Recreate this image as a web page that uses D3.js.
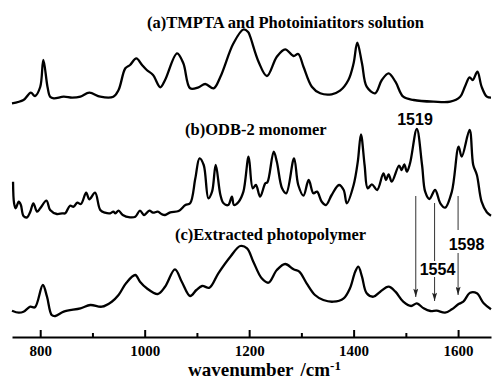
<!DOCTYPE html>
<html>
<head>
<meta charset="utf-8">
<script src="https://cdn.jsdelivr.net/npm/d3@7"></script>
<style>
    body { margin: 0; background: #fff; }
    svg { display: block; }
</style>
</head>
<body>
<div id="chart"></div>
<script>
// wavenumber (cm-1) and relative absorbance
const aWn = [746,768,782,790,800,806,814,819,826,845,861,877,894,915,940,950,963,972,984,995,1004,1016,1030,1039,1062,1074,1087,1103,1116,1132,1145,1170,1189,1198,1202,1218,1234,1253,1269,1285,1294,1304,1320,1336,1358,1374,1390,1400,1407,1416,1425,1441,1454,1467,1480,1495,1515,1553,1585,1604,1613,1622,1628,1637,1645,1655,1663];
const aAbs = [1.7,5,12.3,9,18,45,18,8.3,6.7,8.3,7.3,8.3,12.3,8.3,8.3,15,36.7,40,46.7,40,35,30,17.7,25,51.7,41.7,16.7,17.7,21,16.7,28.3,61.7,75.5,73,68.3,43.3,29,48.3,55.7,49,51,38.3,18.3,11.7,10.7,14.3,25,41.7,62.3,41.7,18.3,11.7,25,31.7,23.3,8.3,5,3.3,3.3,8.3,18.3,27.7,25,33.3,18.3,8.3,7.3];

const bWn = [748,750,753,759,763,768,775,781,787,794,800,812,819,832,842,848,857,864,871,878,888,894,905,915,924,934,940,944,950,958,972,982,991,999,1009,1016,1025,1033,1039,1049,1065,1078,1087,1097,1105,1113,1122,1129,1136,1145,1151,1160,1167,1171,1180,1189,1199,1207,1213,1221,1231,1235,1247,1253,1263,1271,1286,1294,1304,1314,1323,1330,1339,1347,1358,1372,1381,1387,1400,1408,1414,1421,1427,1435,1445,1457,1462,1467,1473,1487,1492,1497,1502,1508,1521,1531,1537,1545,1556,1566,1575,1588,1601,1607,1622,1629,1636,1645,1655,1663];
const bAbs = [38.3,16.7,11.7,18.3,15,4,2.7,8.3,16.7,8.3,11.7,19.3,10,6,6.7,6.7,14.3,13.3,17.3,16,27.3,20.7,27.3,10,7.3,6.7,8.3,6.7,9.3,5,2.7,3.3,9.3,5,9.3,7.3,8.3,5.7,5,7.7,9,15,16.7,41.7,61.7,55,21.7,28.3,55,25,16.7,15,23.3,15,18.3,28.3,63.3,31.7,35,23.3,36.7,37.7,68.3,58.3,31.7,26.7,61.7,35,24.3,40,26.7,28.3,18.3,15,25,35,30,16.7,35,58.3,85.7,55,31.7,35.7,30,46.7,40,45.7,38.3,54.3,50,55.7,48.3,56.7,91,55,28.3,21,30,16.7,12.3,28.3,73.3,63.3,90,55,45,18.3,7.7,4.3];

const cWn = [746,759,768,781,790,805,813,822,829,845,877,896,918,937,950,965,982,991,1004,1025,1039,1058,1071,1087,1099,1110,1124,1141,1164,1183,1196,1208,1224,1237,1253,1269,1285,1296,1310,1326,1342,1361,1381,1393,1403,1409,1416,1425,1438,1451,1467,1480,1495,1510,1521,1534,1547,1559,1575,1588,1601,1610,1623,1636,1649,1663];
const cAbs = [9.3,7.3,8.3,13.3,12.7,35,23.3,5,4,8.3,11.7,15,13.3,18.3,25,37.3,45,38.3,31.7,26,33.3,50.7,38.3,24,30,34,32.3,46.7,63.3,74,71.7,58.3,41.7,37.3,50,56,50.7,48.3,36.7,25,20,18.3,21.7,31.7,48.3,53.3,43.3,26.7,23.3,28.3,33.3,28.3,18.3,14,16.7,11.7,9,9.3,7.3,10.7,16,18.3,27.3,26.7,16.7,10.7];

const spectrumNames = ["(a)TMPTA and Photoiniatitors solution", "(b)ODB-2 monomer", "(c)Extracted photopolymer"];
const spectrumOffsets = [232, 117, 17];

const majorTicks = [800, 1000, 1200, 1400, 1600];
const minorTicks = [900, 1100, 1300, 1500];

const peakWn = [1519, 1555, 1600];
const peakLabels = ["1519", "1554", "1598"];

const width = 492, height = 380;
const axisY = 337;
const serif = "'Liberation Serif', 'Times New Roman', Times, serif";

const svg = d3.select("#chart")
    .append("svg")
    .attr("width", width)
    .attr("height", height);

const x = d3.scaleLinear()
    .domain([746, 1663])
    .range([12, 491]);

// vertical units: stacked, offset per spectrum
const y = d3.scaleLinear()
    .domain([0, 320])
    .range([axisY, axisY - 320]);

const spectra = [
    {name: spectrumNames[0], wn: aWn, abs: aAbs, offset: spectrumOffsets[0]},
    {name: spectrumNames[1], wn: bWn, abs: bAbs, offset: spectrumOffsets[1]},
    {name: spectrumNames[2], wn: cWn, abs: cAbs, offset: spectrumOffsets[2]}
];

const line = d3.line()
    .x(d => x(d[0]))
    .y(d => y(d[1]))
    .curve(d3.curveCatmullRom.alpha(0.5));

svg.selectAll(".spectrum")
    .data(spectra)
    .enter()
    .append("path")
    .attr("class", "spectrum")
    .attr("fill", "none")
    .attr("stroke", "#000")
    .attr("stroke-width", 2.3)
    .attr("stroke-linejoin", "round")
    .attr("d", s => line(s.wn.map((w, i) => [w, s.abs[i] + s.offset])));

// titles
const titlePos = [[147, 28], [185, 135], [175, 240]];
svg.selectAll(".title")
    .data(spectra)
    .enter()
    .append("text")
    .attr("class", "title")
    .attr("x", (d, i) => titlePos[i][0])
    .attr("y", (d, i) => titlePos[i][1])
    .attr("font-family", serif)
    .attr("font-weight", "bold")
    .attr("font-size", "16.5px")
    .text(d => d.name);

// axis
const xAxis = d3.axisBottom(x)
    .tickValues(majorTicks)
    .tickFormat(d3.format("d"))
    .tickSize(-7)
    .tickSizeOuter(0)
    .tickPadding(8);

const gx = svg.append("g")
    .attr("class", "xaxis")
    .attr("transform", `translate(0,${axisY})`)
    .call(xAxis);
gx.select(".domain").attr("stroke-width", 2);
gx.selectAll(".tick line").attr("stroke-width", 2);
gx.selectAll("text")
    .attr("font-family", serif)
    .attr("font-weight", "bold")
    .attr("font-size", "15px")
    .attr("fill", "#000");

const minorAxis = d3.axisBottom(x)
    .tickValues(minorTicks)
    .tickSize(-4)
    .tickSizeOuter(0)
    .tickFormat("");
const gm = svg.append("g")
    .attr("transform", `translate(0,${axisY})`)
    .call(minorAxis);
gm.select(".domain").remove();
gm.selectAll(".tick line").attr("stroke-width", 2);

const axisLabel = svg.append("text")
    .attr("x", 188)
    .attr("y", 376)
    .attr("font-family", serif)
    .attr("font-weight", "bold")
    .attr("font-size", "19px");
axisLabel.append("tspan").text("wavenumber");
axisLabel.append("tspan").attr("dx", 7).text("/cm");
axisLabel.append("tspan").attr("dy", -6).attr("font-size", "13px").text("-1");

// peak arrows
svg.append("defs").append("marker")
    .attr("id", "head")
    .attr("viewBox", "0 0 10 6")
    .attr("refX", 10)
    .attr("refY", 3)
    .attr("markerUnits", "userSpaceOnUse")
    .attr("markerWidth", 9)
    .attr("markerHeight", 5)
    .attr("orient", "auto")
    .append("path")
    .attr("d", "M0,0L10,3L0,6L2,3Z")
    .attr("fill", "#222");

// [top, gapTop, gapBottom, tip] in the same vertical units
const arrowSpans = [[141, null, null, 40], [134, 76, 60, 36], [141, 107, 84, 42]];
peakWn.forEach((w, i) => {
    const s = arrowSpans[i];
    const segs = s[1] === null ? [[s[0], s[3]]] : [[s[0], s[1]], [s[2], s[3]]];
    segs.forEach((g, j) => {
        svg.append("line")
            .attr("x1", x(w)).attr("x2", x(w))
            .attr("y1", y(g[0])).attr("y2", y(g[1]))
            .attr("stroke", "#333")
            .attr("stroke-width", 1)
            .attr("marker-end", j === segs.length - 1 ? "url(#head)" : null);
    });
});

const labelPos = [[415, 125], [437.5, 275], [466.5, 250]];
svg.selectAll(".peaklabel")
    .data(peakLabels)
    .enter()
    .append("text")
    .attr("class", "peaklabel")
    .attr("x", (d, i) => labelPos[i][0])
    .attr("y", (d, i) => labelPos[i][1])
    .attr("text-anchor", "middle")
    .attr("font-family", "'Liberation Sans', Arial, sans-serif")
    .attr("font-weight", "bold")
    .attr("font-size", "16px")
    .text(d => d);
</script>
</body>
</html>
